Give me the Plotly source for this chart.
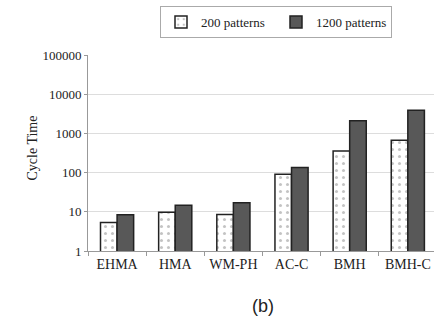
import plotly.graph_objects as go

categories = ["EHMA", "HMA", "WM-PH", "AC-C", "BMH", "BMH-C"]
p200 = [5.3, 9.8, 8.5, 91, 357, 665]
p1200 = [8.4, 14.8, 17, 134, 2100, 3880]
y_ticks = [1, 10, 100, 1000, 10000, 100000]
y_ticktext = ["1", "10", "100", "1000", "10000", "100000"]

W, H = 434, 330
L, R, T, B = 88, 0, 55, 79
pw = W - L - R
ph = H - T - B

serif = "Liberation Serif, Times New Roman, serif"

fig = go.Figure()
fig.add_trace(go.Bar(
    name="200 patterns", x=categories, y=p200,
    marker=dict(color="white", line=dict(color="#222222", width=1.5),
                pattern=dict(shape=".", fgcolor="#888888", bgcolor="white", size=7, solidity=0.15)),
))
fig.add_trace(go.Bar(
    name="1200 patterns", x=categories, y=p1200,
    marker=dict(color="#585858", line=dict(color="#222222", width=1.5)),
))

fig.update_layout(
    width=W, height=H,
    margin=dict(l=L, r=R, t=T, b=B),
    paper_bgcolor="white", plot_bgcolor="white",
    barmode="group", bargap=0.43, bargroupgap=0,
    font=dict(family=serif, size=13, color="#222222"),
    showlegend=True,
    legend=dict(orientation="h", x=(160 - L) / pw, xanchor="left",
                y=(H - B - 6) / ph, yanchor="top",
                bordercolor="#aaaaaa", borderwidth=1,
                font=dict(family=serif, size=13, color="#222222"),
                itemwidth=30, entrywidth=70, entrywidthmode="pixels",
                tracegroupgap=0),
    xaxis=dict(range=[-0.5, 5.45], showline=True, linecolor="#999999", linewidth=1,
               ticks="outside", tickson="boundaries", ticklen=4, tickcolor="#999999",
               tickfont=dict(family=serif, size=14, color="#222222"),
               showgrid=False, zeroline=False, tickangle=0),
    yaxis=dict(type="log", range=[0, 5], tickvals=y_ticks, ticktext=y_ticktext,
               showline=True, linecolor="#999999", linewidth=1,
               ticks="outside", ticklen=3, tickcolor="#999999",
               showgrid=True, gridcolor="#dddddd", gridwidth=1,
               tickfont=dict(family=serif, size=13, color="#222222"),
               zeroline=False),
)

fig.add_annotation(text="Cycle Time", textangle=-90, xref="paper", yref="paper",
                   x=(22 - L) / pw, y=(H - B - 148) / ph, showarrow=False,
                   font=dict(family=serif, size=14, color="#222222"))
fig.add_annotation(text="(b)", xref="paper", yref="paper",
                   x=(263 - L) / pw, y=(H - B - 318) / ph, showarrow=False,
                   font=dict(family="Liberation Sans, Arial, sans-serif", size=18, color="#222222"))

fig.write_html("out.html")
